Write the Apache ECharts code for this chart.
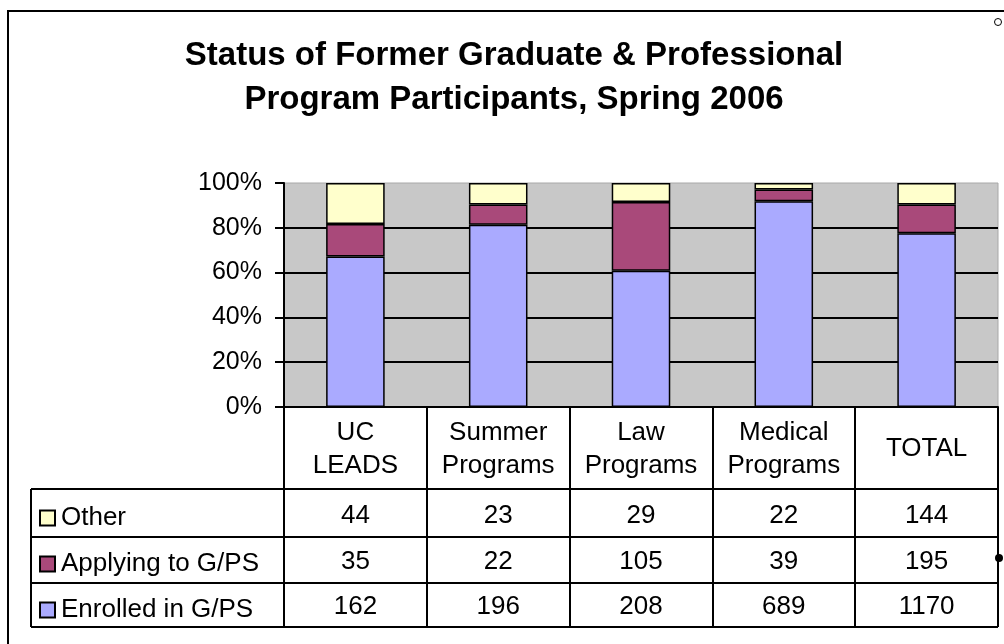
<!DOCTYPE html>
<html><head><meta charset="utf-8">
<script src="https://cdn.jsdelivr.net/npm/echarts@6/dist/echarts.min.js"></script>
<style>html,body{margin:0;padding:0;background:#fff}#c{width:1004px;height:644px}</style>
</head><body><div id="c"></div>
<script>
const titleText = 'Status of Former Graduate & Professional\nProgram Participants, Spring 2006';
const categories = ['UC\nLEADS', 'Summer\nPrograms', 'Law\nPrograms', 'Medical\nPrograms', 'TOTAL'];
const enrolled = [162, 196, 208, 689, 1170];
const applying = [35, 22, 105, 39, 195];
const other = [44, 23, 29, 22, 144];
const nameEnrolled = 'Enrolled in G/PS';
const nameApplying = 'Applying to G/PS';
const nameOther = 'Other';

const totals = categories.map((c, i) => enrolled[i] + applying[i] + other[i]);
const pct = arr => arr.map((v, i) => v / totals[i] * 100);

const FONT = '"Liberation Sans", Arial, sans-serif';
const gridL = 284, gridT = 183, gridR = 998, gridB = 407;
const tableL = 31, rowLines = [489, 537, 583, 627];

const chart = echarts.init(document.getElementById('c'), null, {renderer: 'canvas'});

const barStyle = color => ({color: color, borderColor: '#000', borderWidth: 1.5});

function rowAxis(values, offset) {
  return {
    type: 'category', data: categories, gridIndex: 0, position: 'bottom', offset: offset,
    axisLine: {show: false}, axisTick: {show: false}, splitLine: {show: false},
    axisLabel: {
      interval: 0, margin: 0, verticalAlign: 'middle', color: '#000',
      fontFamily: FONT, fontSize: 26,
      formatter: (v, i) => String(values[i])
    }
  };
}

const lineStyle = {stroke: '#000', lineWidth: 2};
const graphics = [
  {type: 'rect', shape: {x: 8, y: 11, width: 1020, height: 660}, style: {fill: null, stroke: '#000', lineWidth: 2}, silent: true},
  {type: 'line', shape: {x1: tableL, y1: rowLines[0], x2: tableL, y2: rowLines[3]}, style: lineStyle},
  ...rowLines.map(y => ({type: 'line', shape: {x1: tableL, y1: y, x2: gridR, y2: y}, style: lineStyle})),
  {type: 'circle', shape: {cx: 998, cy: 22, r: 3.5}, style: {fill: '#fff', stroke: '#000', lineWidth: 1}},
  {type: 'circle', shape: {cx: 999, cy: 558, r: 4}, style: {fill: '#000'}}
];

chart.setOption({
  animation: false,
  backgroundColor: '#fff',
  textStyle: {fontFamily: FONT},
  title: {
    text: titleText, left: 509, top: 29, textAlign: 'center',
    textStyle: {fontFamily: FONT, fontSize: 33, fontWeight: 'bold', color: '#000', lineHeight: 44}
  },
  legend: {
    orient: 'vertical', left: 39, top: 505, padding: 0, itemWidth: 15, itemHeight: 15, itemGap: 20,
    icon: 'rect',
    data: [nameOther, nameApplying, nameEnrolled],
    textStyle: {fontFamily: FONT, fontSize: 26, color: '#000', lineHeight: 26, padding: [0, 0, 0, 1]},
    selectedMode: false
  },
  grid: {
    left: gridL, top: gridT, width: gridR - gridL, height: gridB - gridT,
    show: true, backgroundColor: '#c8c8c8', borderColor: '#a8a8a8', borderWidth: 1
  },
  xAxis: [
    {
      type: 'category', data: categories, position: 'bottom',
      axisLine: {show: true, lineStyle: {color: '#000', width: 2}},
      axisTick: {show: true, interval: 0, length: rowLines[3] - gridB, lineStyle: {color: '#000', width: 2}},
      axisLabel: {interval: 0, margin: 42, verticalAlign: 'middle', color: '#000', fontFamily: FONT, fontSize: 26, lineHeight: 33},
      splitLine: {show: false}
    },
    rowAxis(other, 109),
    rowAxis(applying, 155),
    rowAxis(enrolled, 200)
  ],
  yAxis: {
    type: 'value', min: 0, max: 100, interval: 20,
    axisLine: {show: true, lineStyle: {color: '#000', width: 2}},
    axisTick: {show: true, length: 9, lineStyle: {color: '#000', width: 2}},
    axisLabel: {formatter: '{value}%', color: '#000', fontFamily: FONT, fontSize: 25, margin: 22},
    splitLine: {show: true, showMaxLine: false, lineStyle: {color: '#000', width: 2}}
  },
  series: [
    {name: nameEnrolled, type: 'bar', stack: 's', barWidth: '41%', data: pct(enrolled), itemStyle: barStyle('#aaaaff')},
    {name: nameApplying, type: 'bar', stack: 's', barWidth: '41%', data: pct(applying), itemStyle: barStyle('#a9497a')},
    {name: nameOther, type: 'bar', stack: 's', barWidth: '41%', data: pct(other), itemStyle: barStyle('#ffffcc')}
  ],
  graphic: graphics
});
</script></body></html>
